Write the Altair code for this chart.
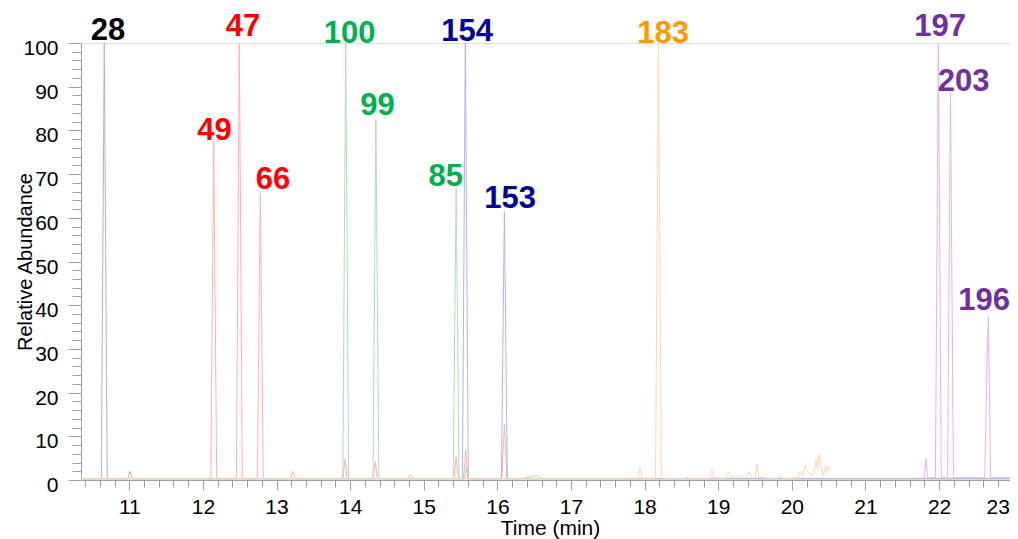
import altair as alt
import pandas as pd

# ---------------- data ----------------
black_t = [10.344, 10.620, 10.660, 10.700, 10.980, 11.010, 11.040, 23.072]
black_v = [0.3, 0.3, 100.0, 0.3, 0.3, 2.0, 0.3, 0.3]

red_t = [10.344, 12.107, 12.147, 12.187, 12.455, 12.495, 12.535, 12.740, 12.780, 12.820,
         13.190, 13.220, 13.250, 13.900, 13.930, 13.960, 14.310, 14.340, 14.370,
         15.410, 15.440, 15.470, 15.540, 15.570, 15.600, 16.060, 16.095, 16.130, 23.072]
red_v = [0.3, 0.3, 77.4, 0.3, 0.3, 100.0, 0.3, 0.3, 65.7, 0.3,
         0.3, 2.0, 0.3, 0.3, 4.8, 0.3, 0.3, 4.2, 0.3,
         0.3, 5.3, 0.3, 0.3, 6.8, 0.3, 0.3, 12.8, 0.3, 0.3]

green_t = [10.344, 13.900, 13.940, 13.980, 14.310, 14.350, 14.390, 14.780, 14.820, 14.860,
           15.400, 15.440, 15.480, 15.555, 15.580, 15.605, 16.300, 16.550, 16.600, 23.072]
green_v = [0.3, 0.3, 100.0, 0.3, 0.3, 82.4, 0.3, 0.3, 1.2, 0.3,
           0.3, 66.8, 0.3, 0.3, 3.0, 0.3, 0.3, 1.0, 0.3, 0.3]

blue_t = [10.344, 15.525, 15.565, 15.605, 16.055, 16.095, 16.135, 23.072]
blue_v = [0.3, 0.3, 100.0, 0.3, 0.3, 61.4, 0.3, 0.3]

orange_t = [10.344, 17.910, 17.940, 17.970, 18.148, 18.188, 18.228, 18.550, 18.580, 18.610,
            18.880, 18.913, 18.940, 19.100, 19.140, 19.170, 19.257, 19.290, 19.334, 19.370,
            19.420, 19.450, 19.500, 19.525, 19.550, 19.800, 19.840, 19.870, 20.080, 20.110,
            20.150, 20.180, 20.220, 20.260, 20.300, 20.330, 20.350, 20.370, 20.400, 20.430,
            20.460, 20.480, 20.500, 20.530]
orange_v = [0.3, 0.3, 3.0, 0.3, 0.3, 100.0, 0.3, 0.3, 0.7, 0.3,
            0.3, 2.4, 0.5, 0.4, 1.9, 0.5, 1.0, 0.5, 1.0, 0.4,
            1.9, 0.5, 0.5, 3.7, 0.6, 0.3, 1.0, 0.3, 0.5, 2.0,
            1.0, 3.3, 1.8, 1.0, 1.5, 4.6, 2.5, 5.8, 2.5, 1.0,
            3.3, 2.0, 3.0, 2.5]

purple_t = [21.770, 21.800, 21.820, 21.845, 21.950, 21.990, 22.030, 22.115, 22.155, 22.195,
            22.620, 22.655, 22.670, 22.700, 23.015, 23.040, 23.072]
purple_v = [0.5, 0.5, 5.0, 0.5, 0.5, 100.0, 0.5, 0.5, 88.6, 0.5,
            0.5, 30.0, 37.5, 0.5, 0.5, 2.0, 0.8]

series_names = ["black", "red", "green", "blue", "orange", "purple"]

label_text = ["28", "47", "49", "66", "100", "99", "85", "154", "153", "183", "197", "203", "196"]
label_series = ["black", "red", "red", "red", "green", "green", "green", "blue", "blue",
                "orange", "purple", "purple", "purple"]
label_t = [10.711, 12.545, 12.158, 12.952, 13.994, 14.370, 15.300, 15.588, 16.172,
           18.251, 22.015, 22.334, 22.612]
label_v = [100.8, 101.6, 77.8, 66.5, 100.1, 83.5, 67.3, 100.5, 62.2,
           100.1, 101.6, 89.1, 38.9]

x_tick_values = [round(10.4 + 0.2 * i, 1) for i in range(64)]
y_tick_values = list(range(0, 101, 2))

# ---------------- styles ----------------
trace_colors = ["#b4b4b4", "#ffb0b0", "#b4dcb4", "#b4b4e6", "#ffd6ac", "#e0b4e8"]
label_colors = ["#000000", "#ff0000", "#00b050", "#000099", "#ff9900", "#7030a0"]
FONT = "Liberation Sans"
AXIS_GRAY = "#a0a0a0"

rows = []
for name, ts, vs in [("black", black_t, black_v), ("red", red_t, red_v),
                     ("green", green_t, green_v), ("blue", blue_t, blue_v),
                     ("orange", orange_t, orange_v), ("purple", purple_t, purple_v)]:
    for t, v in zip(ts, vs):
        rows.append({"series": name, "t": t, "v": v})
traces = pd.DataFrame(rows)

labels = pd.DataFrame({"text": label_text, "series": label_series,
                       "t": label_t, "v": label_v})

x_scale = alt.Scale(domain=[10.344, 23.072], nice=False, zero=False)
y_scale = alt.Scale(domain=[0, 100], nice=False)

is_int = "abs(datum.value - round(datum.value)) < 0.01"

x_axis = alt.Axis(
    values=x_tick_values,
    tickCount=500,
    title="Time (min)",
    labelExpr=is_int + " ? format(datum.value, 'd') : ''",
    labelOverlap=False,
    labelFlush=False,
    labelFont=FONT, labelFontSize=21, labelColor="#000000",
    labelBaseline="alphabetic", labelPadding=23,
    labelOffset=alt.condition("datum.value > 22.9", alt.value(-15), alt.value(0)),
    tickSize=alt.condition(is_int, alt.value(10), alt.value(7)),
    tickColor=AXIS_GRAY, domainColor=AXIS_GRAY, grid=False,
    titleFont=FONT, titleFontSize=21, titleFontWeight="normal", titleColor="#000000",
    titleBaseline="alphabetic", titleY=54, titleX=469, titleAlign="center",
)

y_axis = alt.Axis(
    values=y_tick_values,
    tickCount=500,
    title="Relative Abundance",
    labelExpr="datum.value % 10 === 0 ? format(datum.value, 'd') : ''",
    labelOverlap=False,
    labelFlush=False,
    labelFont=FONT, labelFontSize=21, labelColor="#000000",
    labelBaseline="alphabetic", labelOffset=11.5, labelPadding=10,
    tickSize=alt.condition("datum.value % 10 === 0", alt.value(13), alt.value(9)),
    tickColor=AXIS_GRAY, domainColor=AXIS_GRAY, grid=False,
    titleFont=FONT, titleFontSize=20, titleFontWeight="normal", titleColor="#000000",
    titleAngle=270, titleBaseline="alphabetic", titleAlign="center",
    titleX=-49.5, titleY=218.5,
)

lines = alt.Chart(traces).mark_line(strokeWidth=1).encode(
    x=alt.X("t:Q", scale=x_scale, axis=x_axis),
    y=alt.Y("v:Q", scale=y_scale, axis=y_axis),
    color=alt.Color("series:N", scale=alt.Scale(domain=series_names, range=trace_colors), legend=None),
    detail="series:N",
)

texts = alt.Chart(labels).mark_text(
    font=FONT, fontSize=31, fontWeight="bold", align="center", baseline="alphabetic"
).encode(
    x=alt.X("t:Q", scale=x_scale),
    y=alt.Y("v:Q", scale=y_scale),
    text="text:N",
    color=alt.Color("series:N", scale=alt.Scale(domain=series_names, range=label_colors), legend=None),
)

# the plot runs to the very right edge of the window; the svg is kept within
# the page body (1002 px) so that it is not scaled down.
chart = alt.layer(lines, texts).resolve_scale(color="independent").properties(
    width=937,
    height=437,
    autosize=alt.AutoSizeParams(type="none"),
    padding={"left": 73, "top": 35, "right": -8, "bottom": 59},
).configure_view(stroke=None).configure(background="white")

chart.save("out.html", embed_options={"renderer": "svg", "actions": False})
